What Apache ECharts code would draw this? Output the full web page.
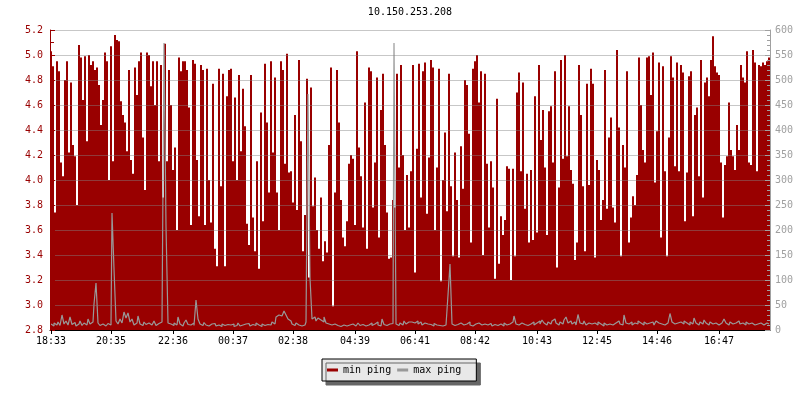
<!DOCTYPE html>
<html>
<head>
<meta charset="utf-8">
<script src="https://cdn.jsdelivr.net/npm/echarts@6/dist/echarts.min.js"></script>
<style>
  html, body { margin: 0; padding: 0; background: #ffffff; }
  #chart { width: 800px; height: 400px; }
</style>
</head>
<body>
<div id="chart"></div>
<script>
const titleText = '10.150.253.208';
const seriesNames = ['min ping', 'max ping'];
const tickLabels = ['18:33','20:35','22:36','00:37','02:38','04:39','06:41','08:42','10:43','12:45','14:46','16:47'];
const minutesPerSample = 4;
const minutesPerTick = 121.33;

const minPing = [
  5.03,4.91,3.74,4.95,4.87,4.14,4.03,4.8,4.95,4.22,
  4.78,4.28,4.19,3.8,5.08,4.98,4.64,4.99,4.31,5.0,
  4.92,4.95,4.88,4.9,4.76,4.44,4.64,5.02,4.95,4.0,
  5.07,4.15,5.16,5.12,5.11,4.63,4.52,4.46,4.23,4.88,
  4.16,4.05,4.9,4.68,4.95,5.02,4.34,3.92,5.02,5.0,
  4.75,4.95,4.6,4.95,4.15,4.92,3.86,5.09,4.15,4.88,

  4.6,4.08,4.26,3.6,4.98,4.87,4.95,4.95,4.88,4.58,
  3.64,4.96,4.93,4.16,3.71,4.92,4.88,3.64,4.89,4.0,
  3.66,4.77,3.45,3.31,4.89,3.95,4.85,3.31,4.67,4.88,
  4.89,4.15,4.66,4.0,4.84,4.23,4.73,4.43,3.65,3.48,
  4.84,3.7,3.43,4.15,3.29,4.54,3.67,4.93,4.46,3.9,
  4.95,4.22,4.82,3.9,3.6,4.95,4.88,4.13,5.01,4.06,

  4.07,3.82,4.52,3.76,4.96,4.31,3.43,3.72,4.81,3.22,
  4.74,3.79,4.02,3.6,3.45,3.86,3.35,3.51,3.42,4.28,
  4.9,2.99,3.9,4.88,4.46,3.84,3.54,3.47,3.67,4.13,
  4.2,4.17,3.64,5.03,4.26,4.03,3.62,4.62,3.45,4.9,
  4.87,3.78,4.14,4.82,3.54,4.56,4.85,4.28,3.74,3.37,
  3.38,3.84,3.78,4.85,4.1,4.92,4.2,3.6,4.04,3.62,

  4.07,4.92,3.26,4.25,4.93,3.86,4.87,4.94,3.73,4.18,
  4.96,4.9,3.6,4.1,4.89,3.19,4.0,4.38,3.75,4.85,
  3.95,3.39,4.22,3.84,3.38,4.27,3.93,4.8,4.76,4.37,
  3.5,4.89,4.95,5.0,4.62,4.87,3.4,4.85,4.13,3.62,
  4.15,3.94,3.21,4.65,3.33,3.71,3.56,3.68,4.11,4.09,
  3.2,4.09,3.39,4.7,4.86,4.07,4.78,3.77,4.05,3.5,

  4.08,3.52,4.67,3.58,4.92,4.32,4.56,4.1,3.56,4.55,
  4.59,4.14,4.87,3.3,3.94,4.96,4.17,5.0,4.19,4.59,
  4.08,3.97,3.36,3.5,4.92,4.52,3.95,3.43,4.77,3.96,
  4.89,4.77,3.38,4.16,4.08,3.68,3.84,4.88,3.77,4.34,
  4.5,3.78,3.66,5.04,4.42,3.39,4.28,4.1,4.87,3.5,
  3.7,3.87,3.8,4.04,4.98,4.6,4.24,4.14,4.98,4.99,

  4.68,5.02,3.98,4.39,4.94,3.54,4.91,4.07,3.39,4.34,
  4.99,4.82,4.11,4.94,4.07,4.92,4.86,3.67,4.06,4.83,
  4.87,3.71,4.52,4.58,4.03,4.96,3.86,4.78,4.82,4.67,
  4.96,5.15,4.91,4.86,4.84,4.14,3.7,4.12,4.19,4.62,
  4.24,4.19,4.08,4.44,4.24,4.92,4.82,4.78,5.03,4.14,
  4.12,5.04,4.94,4.07,4.92,4.91,4.94,4.92,4.95,4.98
];

const maxPing = [
  12,8,14,10,16,9,30,12,18,10,
  26,11,15,8,12,18,9,14,10,22,
  12,16,52,94,14,9,12,8,11,13,
  10,234,122,18,12,22,14,36,24,34,
  16,22,10,14,28,12,9,16,11,14,
  10,12,18,9,13,16,12,574,208,14,

  12,9,14,10,26,12,8,14,20,11,
  10,14,9,60,22,12,9,15,10,8,
  12,9,13,8,10,7,12,9,11,8,
  10,12,7,9,14,8,10,12,9,13,
  8,11,9,14,10,7,12,9,11,14,
  10,16,12,26,30,28,24,38,30,22,

  18,12,9,14,10,8,12,10,16,472,
  104,22,26,18,24,20,16,26,14,12,
  10,8,12,9,11,7,10,13,8,10,
  9,12,8,10,14,9,11,8,12,10,
  14,9,12,16,10,8,22,11,9,12,
  10,13,574,12,9,14,10,18,12,16,

  16,20,14,18,12,16,10,14,12,9,
  11,8,13,10,9,12,8,10,9,70,
  132,12,9,11,8,14,10,9,12,16,
  10,8,12,9,14,10,8,12,10,9,
  13,8,11,9,10,12,8,14,10,12,
  9,16,28,12,10,14,18,11,9,13,

  12,16,10,14,18,12,20,14,10,16,
  12,18,22,14,10,16,12,20,26,14,
  18,12,16,10,31,14,12,18,10,14,
  12,9,14,10,16,12,8,14,10,12,
  16,10,14,12,18,12,10,30,14,12,
  16,10,14,12,18,14,10,16,12,14,

  12,16,10,18,14,12,16,10,14,18,
  33,16,12,14,10,16,12,18,14,10,
  16,12,24,14,10,16,12,20,14,10,
  16,12,14,18,10,14,12,22,14,10,
  16,12,14,10,18,12,14,10,16,12,
  14,18,10,12,16,14,10,12,14,12
];

const leftMin = 2.8, leftMax = 5.2, leftStep = 0.2;
const rightMin = 0, rightMax = 600, rightStep = 50;

const tickIndexToLabel = {};
tickLabels.forEach((lab, k) => {
  tickIndexToLabel[Math.round(k * minutesPerTick / minutesPerSample)] = lab;
});
const isTick = (index) => Object.prototype.hasOwnProperty.call(tickIndexToLabel, index);

const RED = '#990000';
const GRAY = '#999999';
const LABEL_GRAY = '#a0a0a0';
const MONO = 'DejaVu Sans Mono';

const chart = echarts.init(document.getElementById('chart'), null, { renderer: 'canvas' });
chart.setOption({
  animation: false,
  backgroundColor: '#ffffff',
  textStyle: { fontFamily: MONO },
  title: {
    text: titleText,
    left: 405,
    textAlign: 'center',
    top: 2,
    textStyle: { fontFamily: MONO, fontSize: 10, fontWeight: 'normal', color: '#000' }
  },
  legend: {
    data: seriesNames,
    left: 322,
    top: 359,
    orient: 'horizontal',
    icon: 'rect',
    itemWidth: 11,
    itemHeight: 3,
    itemGap: 6,
    padding: [6, 15, 6, 5],
    backgroundColor: '#e8e8e8',
    borderColor: '#000',
    borderWidth: 1,
    shadowColor: '#666666',
    shadowBlur: 0,
    shadowOffsetX: 4,
    shadowOffsetY: 4,
    textStyle: { fontFamily: MONO, fontSize: 10, color: '#000' }
  },
  grid: { left: 50, right: 30, top: 30, bottom: 70, containLabel: false },
  xAxis: {
    type: 'category',
    boundaryGap: true,
    z: 10,
    axisLine: { show: true, lineStyle: { color: '#000', width: 1 } },
    axisTick: { show: true, interval: (i) => isTick(i), alignWithLabel: true, length: 4, lineStyle: { color: '#000' } },
    axisLabel: {
      interval: (i) => isTick(i),
      formatter: (v, i) => tickIndexToLabel[i] || '',
      color: '#000', fontFamily: MONO, fontSize: 10, margin: 6
    },
    splitLine: { show: false }
  },
  yAxis: [
    {
      type: 'value',
      position: 'left',
      min: leftMin, max: leftMax, interval: leftStep,
      z: 10,
      axisLine: { show: true, lineStyle: { color: RED } },
      axisTick: { show: true, inside: true, length: 5, lineStyle: { color: RED } },
      minorTick: { show: true, splitNumber: 2, length: 4, lineStyle: { color: RED } },
      axisLabel: { color: RED, fontFamily: MONO, fontSize: 10, margin: 7, formatter: (v) => v.toFixed(1) },
      splitLine: { show: true, lineStyle: { color: 'rgba(130,130,130,0.45)', width: 1 } }
    },
    {
      type: 'value',
      position: 'right',
      min: rightMin, max: rightMax, interval: rightStep,
      z: 10,
      axisLine: { show: true, lineStyle: { color: LABEL_GRAY } },
      axisTick: { show: true, inside: true, length: 5, lineStyle: { color: LABEL_GRAY } },
      minorTick: { show: true, splitNumber: 5, length: 3, lineStyle: { color: LABEL_GRAY } },
      axisLabel: { color: LABEL_GRAY, fontFamily: MONO, fontSize: 10, margin: 5 },
      splitLine: { show: false }
    }
  ],
  series: [
    {
      name: seriesNames[0],
      type: 'bar',
      yAxisIndex: 0,
      data: minPing,
      color: RED,
      itemStyle: { color: RED },
      barCategoryGap: '0%',
      barGap: '0%',
      z: 2
    },
    {
      name: seriesNames[1],
      type: 'line',
      yAxisIndex: 1,
      data: maxPing,
      color: GRAY,
      step: 'middle',
      showSymbol: false,
      symbol: 'none',
      lineStyle: { color: GRAY, width: 1.2 },
      itemStyle: { color: GRAY },
      z: 3
    }
  ]
});
</script>
</body>
</html>
